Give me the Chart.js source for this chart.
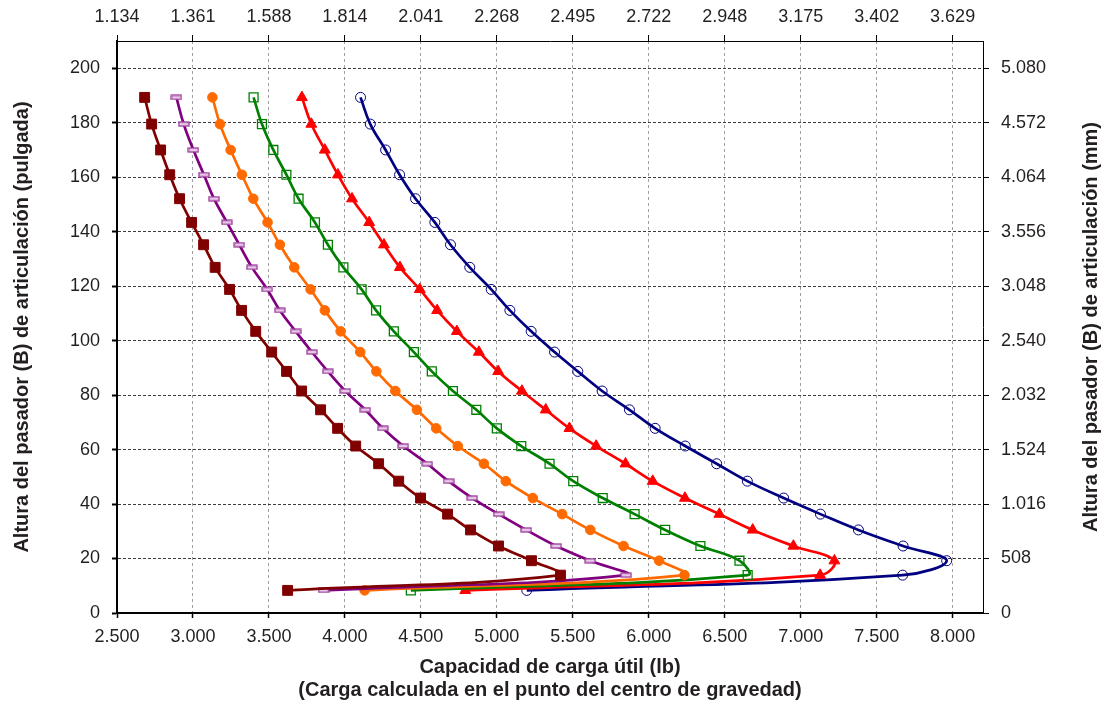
<!DOCTYPE html>
<html>
<head>
<meta charset="utf-8">
<script src="https://cdn.jsdelivr.net/npm/chart.js@4.4.1/dist/chart.umd.min.js"></script>
<style>
html,body{margin:0;padding:0;background:#fff;}
#wrap{width:1103px;height:706px;}
</style>
</head>
<body>
<div id="wrap"><canvas id="c" width="1103" height="706"></canvas></div>
<script>
// Pin height (B), inches – shared by every curve
const pinHeightIn = [189.3, 179.5, 170, 160.9, 152.1, 143.4, 135.2, 126.9, 118.8, 111.1, 103.4, 95.8, 88.7, 81.5, 74.6, 67.8, 61.3, 54.8, 48.4, 42.2, 36.3, 30.5, 24.6, 19.2, 13.9, 8.3];

// Load capacity (lb) per curve
const loadMaroon = [2682, 2728, 2787, 2847, 2912, 2991, 3070, 3146, 3241, 3320, 3413, 3518, 3616, 3715, 3840, 3952, 4071, 4222, 4354, 4498, 4676, 4827, 5011, 5228, 5419, 3623];
const loadPurple = [2891, 2939, 3003, 3072, 3138, 3224, 3305, 3388, 3489, 3572, 3676, 3783, 3888, 4003, 4134, 4250, 4384, 4542, 4682, 4838, 5013, 5193, 5391, 5614, 5851, 3860];
const loadOrange = [3128, 3178, 3248, 3322, 3397, 3491, 3572, 3667, 3774, 3868, 3972, 4101, 4207, 4332, 4474, 4601, 4743, 4915, 5059, 5237, 5430, 5615, 5834, 6068, 6235, 4130];
const loadGreen  = [3399, 3454, 3529, 3615, 3695, 3803, 3888, 3990, 4110, 4205, 4322, 4454, 4572, 4711, 4865, 5000, 5161, 5347, 5503, 5697, 5907, 6108, 6340, 6597, 6651, 4434];
const loadRed    = [3717, 3779, 3868, 3954, 4047, 4160, 4257, 4362, 4493, 4607, 4737, 4882, 5009, 5165, 5322, 5478, 5654, 5847, 6026, 6238, 6465, 6684, 6952, 7222, 7128, 4792];
const loadNavy   = [4103, 4167, 4268, 4360, 4465, 4592, 4695, 4822, 4963, 5086, 5226, 5380, 5533, 5693, 5873, 6042, 6240, 6447, 6649, 6888, 7130, 7380, 7674, 7961, 7671, 5197];

// Tick values and labels
const lbTickValues = [2500, 3000, 3500, 4000, 4500, 5000, 5500, 6000, 6500, 7000, 7500, 8000];
const lbTickLabels = ['2.500','3.000','3.500','4.000','4.500','5.000','5.500','6.000','6.500','7.000','7.500','8.000'];
const kgTickLabels = ['1.134','1.361','1.588','1.814','2.041','2.268','2.495','2.722','2.948','3.175','3.402','3.629'];
const inTickValues = [0, 20, 40, 60, 80, 100, 120, 140, 160, 180, 200];
const inTickLabels = ['0','20','40','60','80','100','120','140','160','180','200'];
const mmTickLabels = ['0','508','1.016','1.524','2.032','2.540','3.048','3.556','4.064','4.572','5.080'];

const xTitle = ['Capacidad de carga útil (lb)', '(Carga calculada en el punto del centro de gravedad)'];
const yTitleLeft = 'Altura del pasador (B) de articulación (pulgada)';
const yTitleRight = 'Altura del pasador (B) de articulación (mm)';

const FONT = '"Liberation Sans", Arial, Helvetica, sans-serif';
const TXT = '#231f20';

function dashMarker(color, fill) {
  const c = document.createElement('canvas');
  c.width = 12; c.height = 6;
  const g = c.getContext('2d');
  g.fillStyle = fill; g.fillRect(1, 1, 10, 4);
  g.strokeStyle = color; g.lineWidth = 1.3; g.strokeRect(1, 1, 10, 4);
  return c;
}

function series(vals, color, style, radius, bg, bw) {
  return {
    data: vals.map((v, i) => ({x: v, y: pinHeightIn[i]})),
    xAxisID: 'x', yAxisID: 'y',
    borderColor: color,
    borderWidth: 2.7,
    pointStyle: style,
    pointRadius: radius,
    pointHoverRadius: radius,
    pointBackgroundColor: bg,
    pointBorderColor: color,
    pointBorderWidth: bw,
    tension: 0.4,
    fill: false,
    clip: false
  };
}

const setTicks = vals => (s) => { s.ticks = vals.map(v => ({value: v})); };

const rightTitle = {
  id: 'rightTitle',
  afterDraw(chart) {
    const ctx = chart.ctx, a = chart.chartArea;
    ctx.save();
    ctx.translate(chart.width - 12, (a.top + a.bottom) / 2);
    ctx.rotate(-Math.PI / 2);
    ctx.font = 'bold 20px ' + FONT;
    ctx.fillStyle = TXT;
    ctx.textAlign = 'center';
    ctx.textBaseline = 'middle';
    ctx.fillText(yTitleRight, 0, 0);
    ctx.restore();
  }
};

new Chart(document.getElementById('c'), {
  type: 'line',
  data: {
    datasets: [
      series(loadMaroon, '#800000', 'rect', 7, '#800000', 1),
      series(loadPurple, '#800080', dashMarker('#9a3c9a', '#e8c8e8'), 5, '#800080', 1),
      series(loadOrange, '#ff6a00', 'circle', 4.8, '#ff6a00', 1),
      series(loadGreen, '#008000', 'rect', 6.3, 'rgba(255,255,255,0)', 1.3),
      series(loadRed, '#ff0000', 'triangle', 6.3, '#ff0000', 1),
      series(loadNavy, '#000080', 'circle', 5, 'rgba(255,255,255,0)', 1)
    ]
  },
  options: {
    responsive: false,
    devicePixelRatio: 1,
    animation: false,
    layout: {padding: 0},
    plugins: {legend: {display: false}, tooltip: {enabled: false}},
    scales: {
      x: {
        type: 'linear', position: 'bottom', min: 2500, max: 8200, bounds: 'data',
        afterBuildTicks: setTicks(lbTickValues),
        ticks: {autoSkip: false, maxRotation: 0, padding: 8,
                color: TXT, font: {family: FONT, size: 18}, callback: (v, i) => lbTickLabels[i]},
        grid: {color: '#a0a0a0', lineWidth: 1, tickLength: 5, tickColor: '#000', tickWidth: 1.5},
        border: {color: '#000', width: 2, dash: [3, 3]},
        title: {display: true, text: xTitle, color: TXT,
                font: {family: FONT, size: 20, weight: 'bold', lineHeight: 1.15}, padding: {top: 0, bottom: 4.5}},
        afterFit(s) { s.height = 93; }
      },
      x2: {
        type: 'linear', position: 'top', min: 2500, max: 8200, bounds: 'data',
        afterBuildTicks: setTicks(lbTickValues),
        ticks: {autoSkip: false, maxRotation: 0, padding: 7,
                color: TXT, font: {family: FONT, size: 18}, callback: (v, i) => kgTickLabels[i]},
        grid: {drawOnChartArea: false, tickLength: 6, tickColor: '#000', tickWidth: 1},
        border: {color: '#000', width: 1},
        afterFit(s) { s.height = 41; }
      },
      y: {
        type: 'linear', position: 'left', min: 0, max: 210, bounds: 'data',
        afterBuildTicks: setTicks(inTickValues),
        ticks: {autoSkip: false, padding: 12,
                color: TXT, font: {family: FONT, size: 18}, callback: (v, i) => inTickLabels[i]},
        grid: {color: '#3a3a3a', lineWidth: 1, tickLength: 5, tickColor: '#000', tickWidth: 2},
        border: {color: '#000', width: 2, dash: [3, 2]},
        title: {display: true, text: yTitleLeft, color: TXT,
                font: {family: FONT, size: 20, weight: 'bold'}, padding: {top: 10, bottom: 0}},
        afterFit(s) { s.width = 117; }
      },
      y2: {
        type: 'linear', position: 'right', min: 0, max: 210, bounds: 'data',
        afterBuildTicks: setTicks(inTickValues),
        ticks: {autoSkip: false, padding: 12,
                color: TXT, font: {family: FONT, size: 18}, callback: (v, i) => mmTickLabels[i]},
        grid: {drawOnChartArea: false, tickLength: 6, tickColor: '#000', tickWidth: 1},
        border: {color: '#000', width: 1},
        afterFit(s) { s.width = 120; }
      }
    }
  },
  plugins: [rightTitle]
});
</script>
</body>
</html>
